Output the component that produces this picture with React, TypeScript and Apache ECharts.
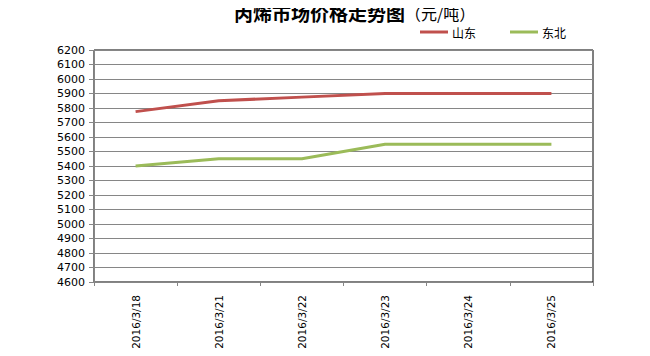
import React, { useEffect, useRef } from "react";
import * as echarts from "echarts";

const categories = ["2016/3/18", "2016/3/21", "2016/3/22", "2016/3/23", "2016/3/24", "2016/3/25"];
const shandong = [5775, 5850, 5875, 5900, 5900, 5900];
const dongbei = [5400, 5450, 5450, 5550, 5550, 5550];
const yMin = 4600;
const yMax = 6200;
const yStep = 100;

export default function App() {
  const ref = useRef<HTMLDivElement>(null);
  useEffect(() => {
    const chart = echarts.init(ref.current!, null, { renderer: "svg" });
    const font = "'Noto Sans CJK SC', 'DejaVu Sans', sans-serif";
    chart.setOption({
      animation: false,
      backgroundColor: "#fff",
      textStyle: { fontFamily: font },
      title: [
        {
          text: "丙烯市场价格走势图",
          left: 234,
          top: 3,
          padding: 0,
          textStyle: { fontSize: 19, fontWeight: "bold", color: "#000", fontFamily: font },
        },
        {
          text: "（元/吨）",
          left: 405,
          top: 5,
          padding: 0,
          textStyle: { fontSize: 16, fontWeight: "normal", color: "#000", fontFamily: font },
        },
      ],
      legend: {
        top: 21,
        left: 415,
        itemWidth: 28,
        itemHeight: 3,
        itemGap: 34,
        icon: "rect",
        textStyle: { fontSize: 12, color: "#000", fontFamily: font, padding: [0, 0, 0, -1] },
        data: ["山东", "东北"],
      },
      grid: {
        left: 94,
        right: 57,
        top: 50,
        bottom: 74,
        show: true,
        borderColor: "#000",
        borderWidth: 1,
      },
      xAxis: {
        type: "category",
        data: categories,
        boundaryGap: true,
        axisLine: { lineStyle: { color: "#868686" } },
        axisTick: { show: true, length: 4, lineStyle: { color: "#868686" } },
        axisLabel: {
          rotate: 90,
          interval: 0,
          fontSize: 10.5,
          color: "#000",
          margin: 13,
          fontFamily: "'DejaVu Sans', sans-serif",
        },
      },
      yAxis: {
        type: "value",
        min: yMin,
        max: yMax,
        interval: yStep,
        axisLine: { show: true, lineStyle: { color: "#868686" } },
        axisTick: { show: true, length: 5, lineStyle: { color: "#868686" } },
        splitLine: { lineStyle: { color: "#868686" } },
        axisLabel: {
          fontSize: 11,
          color: "#000",
          margin: 9,
          fontFamily: "'DejaVu Sans', sans-serif",
          formatter: (v: number) => String(v),
        },
      },
      series: [
        {
          name: "山东",
          type: "line",
          data: shandong,
          showSymbol: false,
          symbol: "none",
          lineStyle: { color: "#c0504d", width: 3 },
          itemStyle: { color: "#c0504d" },
        },
        {
          name: "东北",
          type: "line",
          data: dongbei,
          showSymbol: false,
          symbol: "none",
          lineStyle: { color: "#9bbb59", width: 3 },
          itemStyle: { color: "#9bbb59" },
        },
      ],
    });
    return () => chart.dispose();
  }, []);
  return <div ref={ref} style={{ width: 650, height: 356, margin: -8 }} />;
}
